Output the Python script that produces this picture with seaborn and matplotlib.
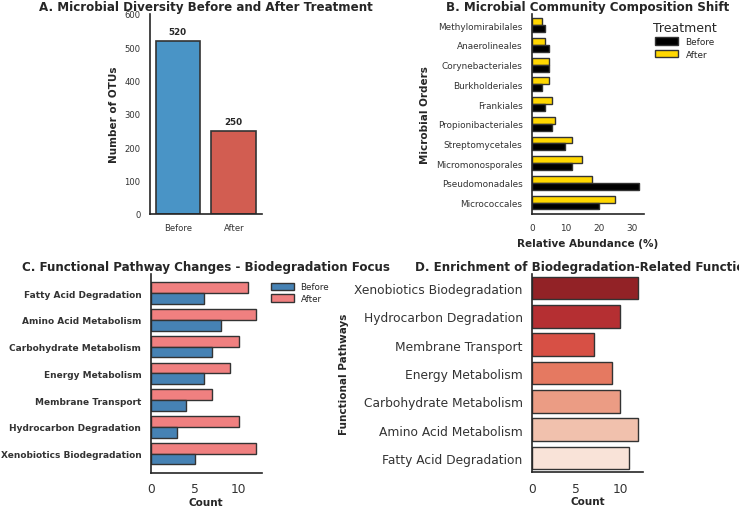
import matplotlib
matplotlib.use("Agg")
import matplotlib.pyplot as plt
import seaborn as sns
import pandas as pd
from matplotlib.patches import Patch

# ---------------- data ----------------
diversity_groups = ["Before", "After"]
diversity_otus = [520, 250]

orders = ["Methylomirabilales", "Anaerolineales", "Corynebacteriales", "Burkholderiales",
          "Frankiales", "Propionibacteriales", "Streptomycetales", "Micromonosporales",
          "Pseudomonadales", "Micrococcales"]
orders_before = [4, 5, 5, 3, 4, 6, 10, 12, 32, 20]
orders_after = [3, 4, 5, 5, 6, 7, 12, 15, 18, 25]

pathways = ["Fatty Acid Degradation", "Amino Acid Metabolism", "Carbohydrate Metabolism",
            "Energy Metabolism", "Membrane Transport", "Hydrocarbon Degradation",
            "Xenobiotics Biodegradation"]
pathways_before = [6, 8, 7, 6, 4, 3, 5]
pathways_after = [11, 12, 10, 9, 7, 10, 12]

enrich_pathways = ["Xenobiotics Biodegradation", "Hydrocarbon Degradation", "Membrane Transport",
                   "Energy Metabolism", "Carbohydrate Metabolism", "Amino Acid Metabolism",
                   "Fatty Acid Degradation"]
enrich_counts = [12, 10, 7, 9, 10, 12, 11]

treatments = ["Before", "After"]

# ---------------- style ----------------
sns.set_theme(style="white")
plt.rcParams["font.family"] = ["DejaVu Sans"]
TXT = "#262626"
plt.rcParams["text.color"] = TXT
plt.rcParams["axes.labelcolor"] = TXT
plt.rcParams["xtick.color"] = "#333333"
plt.rcParams["ytick.color"] = "#333333"
plt.rcParams["axes.edgecolor"] = "#262626"
plt.rcParams["axes.linewidth"] = 1.2

W, H = 739, 510
fig = plt.figure(figsize=(W / 100, H / 100), dpi=100)


def px_axes(x0, y0, x1, y1):
    return fig.add_axes([x0 / W, (H - y1) / H, (x1 - x0) / W, (y1 - y0) / H])


axA = px_axes(150, 15, 261.7, 215)
axB = px_axes(532, 15, 644, 215)
axC = px_axes(150.7, 275, 261.7, 474)
axD = px_axes(532, 275, 643.3, 473.3)

TITLE_FS = 8.55
LABEL_FS = 7.5
PAD = 6.8

# ---------------- A ----------------
dfA = pd.DataFrame({"group": diversity_groups, "otus": diversity_otus})
sns.barplot(data=dfA, x="group", y="otus", hue="group", palette=["#3498db", "#e74c3c"],
            order=diversity_groups, legend=False, edgecolor="#333333", linewidth=1.2, ax=axA)
for c in axA.containers:
    axA.bar_label(c, fmt="%d", padding=3.5, fontsize=6.3, fontweight="bold", color=TXT)
axA.set_ylim(0, 600)
axA.set_xlim(-0.5, 1.5)
axA.set_yticks(range(0, 601, 100))
axA.set_title("A. Microbial Diversity Before and After Treatment", fontsize=TITLE_FS,
              fontweight="bold", pad=3)
axA.set_xlabel("")
axA.set_ylabel("Number of OTUs", fontsize=LABEL_FS, fontweight="bold")
axA.tick_params(labelsize=6.1, length=0, pad=PAD)

# ---------------- B ----------------
dfB = pd.DataFrame({
    "order": orders * 2,
    "treatment": ["Before"] * len(orders) + ["After"] * len(orders),
    "abundance": orders_before + orders_after,
})
palB = {"Before": "black", "After": "#FFD700"}
sns.barplot(data=dfB, y="order", x="abundance", hue="treatment", order=orders,
            hue_order=["After", "Before"], palette=palB, saturation=1, width=0.7,
            edgecolor="#333333", linewidth=1, orient="h", ax=axB)
axB.set_ylim(len(orders) - 1 + 0.58, -0.57)
axB.set_xlim(0, 33.6)
axB.set_xticks([0, 10, 20, 30])
axB.set_title("B. Microbial Community Composition Shift", fontsize=TITLE_FS,
              fontweight="bold", pad=3)
axB.set_xlabel("Relative Abundance (%)", fontsize=LABEL_FS, fontweight="bold")
axB.set_ylabel("Microbial Orders", fontsize=LABEL_FS, fontweight="bold")
axB.tick_params(labelsize=6.4, length=0, pad=PAD)
handlesB = [Patch(facecolor=palB[t], edgecolor="#333333", linewidth=1, label=t) for t in treatments]
axB.legend(handles=handlesB, title="Treatment", loc="upper left",
           bbox_to_anchor=(1.05, 0.985), frameon=False, fontsize=6.4,
           title_fontsize=9, handlelength=2.6, handleheight=0.9,
           labelspacing=0.4, borderaxespad=0)

# ---------------- C ----------------
dfC = pd.DataFrame({
    "pathway": pathways * 2,
    "treatment": ["Before"] * len(pathways) + ["After"] * len(pathways),
    "count": pathways_before + pathways_after,
})
palC = {"Before": "steelblue", "After": "lightcoral"}
sns.barplot(data=dfC, y="pathway", x="count", hue="treatment", order=pathways,
            hue_order=["After", "Before"], palette=palC, saturation=1, width=0.8,
            edgecolor="#333333", linewidth=1, orient="h", ax=axC)
axC.set_ylim(len(pathways) - 1 + 0.72, -0.71)
axC.set_xlim(0, 12.6)
axC.set_xticks([0, 5, 10])
axC.set_title("C. Functional Pathway Changes - Biodegradation Focus", fontsize=TITLE_FS,
              fontweight="bold", pad=3)
axC.set_xlabel("Count", fontsize=LABEL_FS, fontweight="bold", labelpad=1)
axC.set_ylabel("")
axC.tick_params(axis="x", labelsize=8.8, length=0, pad=PAD)
axC.tick_params(axis="y", labelsize=6.5, length=0, pad=PAD)
for t in axC.get_yticklabels():
    t.set_fontweight("bold")
handlesC = [Patch(facecolor=palC[t], edgecolor="#333333", linewidth=1, label=t) for t in treatments]
axC.legend(handles=handlesC, loc="upper left", bbox_to_anchor=(1.05, 0.975), frameon=False,
           fontsize=6.3, handlelength=2.6, handleheight=0.9, labelspacing=0.3, borderaxespad=0)

# ---------------- D ----------------
dfD = pd.DataFrame({"pathway": enrich_pathways, "count": enrich_counts})
sns.barplot(data=dfD, y="pathway", x="count", hue="pathway", order=enrich_pathways,
            palette="Reds_r", legend=False, edgecolor="#333333", linewidth=1,
            orient="h", ax=axD)
axD.set_ylim(len(enrich_pathways) - 0.5, -0.5)
axD.set_xlim(0, 12.6)
axD.set_xticks([0, 5, 10])
axD.set_title("D. Enrichment of Biodegradation-Related Functions", fontsize=TITLE_FS,
              fontweight="bold", pad=3)
axD.set_xlabel("Count", fontsize=LABEL_FS, fontweight="bold", labelpad=1)
axD.set_ylabel("Functional Pathways", fontsize=LABEL_FS, fontweight="bold")
axD.tick_params(axis="both", labelsize=8.8, length=0, pad=PAD)

for ax in (axA, axB, axC, axD):
    sns.despine(ax=ax)

fig.savefig("out.png", dpi=100)
